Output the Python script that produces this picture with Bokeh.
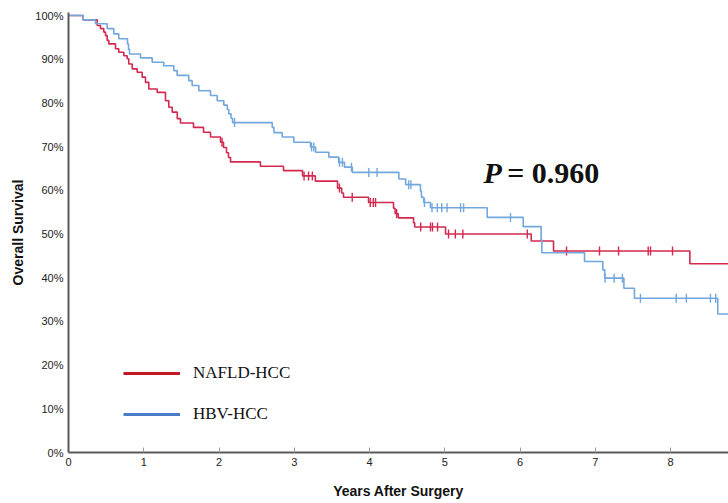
import numpy as np
from bokeh.plotting import figure
from bokeh.models import (Range1d, FixedTicker, NumeralTickFormatter, Legend,
                          LegendItem, Label, ColumnDataSource)
from bokeh.embed import file_html
from bokeh.resources import INLINE

# ---------------- data ----------------
follow_up_end = 8.77

nafld_time = [0, 0.195, 0.381, 0.425, 0.469, 0.492, 0.514, 0.536, 0.625, 0.668,
              0.735, 0.780, 0.801, 0.847, 0.913, 0.979, 1.023, 1.067, 1.179, 1.289,
              1.333, 1.378, 1.445, 1.488, 1.661, 1.794, 1.887, 2.02, 2.06, 2.10,
              2.126, 2.153, 2.55, 2.857, 3.11, 3.28, 3.575, 3.63, 3.654, 3.987,
              4.319, 4.34, 4.38, 4.585, 4.60, 5.01, 6.149, 6.445, 8.257]
nafld_surv = [1.0, 0.990, 0.977, 0.970, 0.962, 0.954, 0.943, 0.935, 0.924, 0.916,
              0.908, 0.901, 0.889, 0.878, 0.870, 0.859, 0.847, 0.832, 0.824, 0.805,
              0.790, 0.779, 0.764, 0.754, 0.744, 0.733, 0.722, 0.710, 0.698, 0.686,
              0.675, 0.665, 0.655, 0.645, 0.633, 0.621, 0.605, 0.594, 0.584, 0.572,
              0.559, 0.547, 0.537, 0.526, 0.516, 0.500, 0.484, 0.461, 0.432]
nafld_censor = [2.04, 3.13, 3.19, 3.24, 3.60, 3.77, 4.01, 4.05, 4.08, 4.36, 4.68,
                4.81, 4.837, 4.904, 5.05, 5.14, 5.24, 6.096, 6.618, 7.056, 7.309,
                7.703, 7.734, 8.026]

hbv_time = [0, 0.195, 0.359, 0.514, 0.602, 0.668, 0.784, 0.797, 0.811, 0.957,
            1.112, 1.266, 1.399, 1.444, 1.598, 1.643, 1.732, 1.887, 1.976, 2.064,
            2.11, 2.13, 2.16, 2.18, 2.707, 2.73, 2.84, 2.994, 3.216, 3.283,
            3.46, 3.59, 3.668, 3.772, 4.39, 4.48, 4.677, 4.69, 4.72, 4.81,
            5.564, 6.042, 6.28, 6.29, 6.857, 7.10, 7.125, 7.38, 7.52, 8.627]
hbv_surv = [1.0, 0.990, 0.981, 0.970, 0.958, 0.947, 0.935, 0.923, 0.912, 0.903,
            0.893, 0.885, 0.874, 0.863, 0.851, 0.840, 0.828, 0.817, 0.805, 0.795,
            0.785, 0.775, 0.765, 0.755, 0.744, 0.732, 0.722, 0.710, 0.699, 0.687,
            0.676, 0.664, 0.653, 0.641, 0.626, 0.613, 0.598, 0.584, 0.572, 0.560,
            0.538, 0.517, 0.487, 0.457, 0.437, 0.418, 0.399, 0.376, 0.353, 0.317]
hbv_censor = [2.206, 3.23, 3.26, 3.60, 3.64, 3.76, 3.99, 4.10, 4.52, 4.55, 4.73,
              4.83, 4.90, 4.96, 5.03, 5.21, 5.25, 5.873, 7.13, 7.25, 7.36, 7.60,
              8.075, 8.21, 8.53, 8.60]

x_ticks = [0, 1, 2, 3, 4, 5, 6, 7, 8]
y_ticks = [0, 0.1, 0.2, 0.3, 0.4, 0.5, 0.6, 0.7, 0.8, 0.9, 1.0]

series_names = ["NAFLD-HCC", "HBV-HCC"]
curve_colors = ["#d3294f", "#72a7de"]
legend_colors = ["#c0172a", "#4a7dc9"]
p_value_text = "= 0.960"

# ---------------- figure ----------------
p = figure(width=728, height=503, output_backend="svg", toolbar_location=None,
           x_range=Range1d(0, follow_up_end), y_range=Range1d(0, 1.0069),
           min_border_left=68, min_border_right=0, min_border_top=12,
           min_border_bottom=51)
p.outline_line_color = None
p.xgrid.visible = False
p.ygrid.visible = False
p.background_fill_color = "white"
p.border_fill_color = "white"


def km_source(times, surv):
    t = list(times) + [follow_up_end]
    s = list(surv) + [surv[-1]]
    return ColumnDataSource(dict(t=t, s=s))


def censor_source(times, surv, cens):
    t = np.asarray(times)
    s = np.asarray(surv)
    idx = np.searchsorted(t, np.asarray(cens), side="right") - 1
    return ColumnDataSource(dict(t=list(cens), s=list(s[idx])))


series = [(nafld_time, nafld_surv, nafld_censor), (hbv_time, hbv_surv, hbv_censor)]
legend_items = []
for (tt, ss, cc), name, col, lcol in zip(series, series_names, curve_colors, legend_colors):
    p.step(x="t", y="s", source=km_source(tt, ss), mode="after",
           line_color=col, line_width=1.6)
    p.scatter(x="t", y="s", source=censor_source(tt, ss, cc), marker="dash",
              angle=np.pi / 2, size=9, line_color=col, line_width=1.4)
    dummy = p.line(x=[np.nan], y=[np.nan], line_color=lcol, line_width=3)
    legend_items.append(LegendItem(label=name, renderers=[dummy]))

legend = Legend(items=legend_items, location=(55, 28), orientation="vertical",
                glyph_width=57, glyph_height=20, label_height=20, spacing=21,
                label_standoff=13, padding=0, margin=0,
                border_line_alpha=0, background_fill_alpha=0,
                label_text_font="Liberation Serif", label_text_font_size="17px",
                label_text_color="#111111")
p.add_layout(legend)

# P value annotation
p.add_layout(Label(x=5.515, y=0.641, text="P", text_font="Liberation Serif",
                   text_font_style="bold italic", text_font_size="30px",
                   text_color="#111111", text_baseline="alphabetic"))
p.add_layout(Label(x=5.83, y=0.641, text=p_value_text, text_font="Liberation Serif",
                   text_font_style="bold", text_font_size="30px",
                   text_color="#111111", text_baseline="alphabetic"))

# axes
p.xaxis.ticker = FixedTicker(ticks=x_ticks)
p.yaxis.ticker = FixedTicker(ticks=y_ticks)
p.yaxis.formatter = NumeralTickFormatter(format="0%")

for ax in (p.xaxis, p.yaxis):
    ax.axis_line_color = "#5a5a5a"
    ax.axis_line_width = 2
    ax.major_label_text_font = "Liberation Sans"
    ax.major_label_text_font_size = "11px"
    ax.major_label_text_color = "#222222"
    ax.minor_tick_line_color = None
    ax.axis_label_text_font = "Liberation Sans"
    ax.axis_label_text_font_style = "bold"
    ax.axis_label_text_font_size = "14px"
    ax.axis_label_text_color = "#111111"

p.xaxis.major_tick_in = 5
p.xaxis.major_tick_out = 0
p.xaxis.major_tick_line_color = "#9a9a9a"
p.xaxis.major_label_standoff = 5
p.xaxis.axis_label = "Years After Surgery"
p.xaxis.axis_label_standoff = 14

p.yaxis.major_tick_line_color = None
p.yaxis.major_tick_in = 0
p.yaxis.major_tick_out = 0
p.yaxis.major_label_standoff = 5
p.yaxis.axis_label = "Overall Survival"
p.yaxis.axis_label_standoff = 6

open("out.html", "w").write(file_html(p, INLINE))
